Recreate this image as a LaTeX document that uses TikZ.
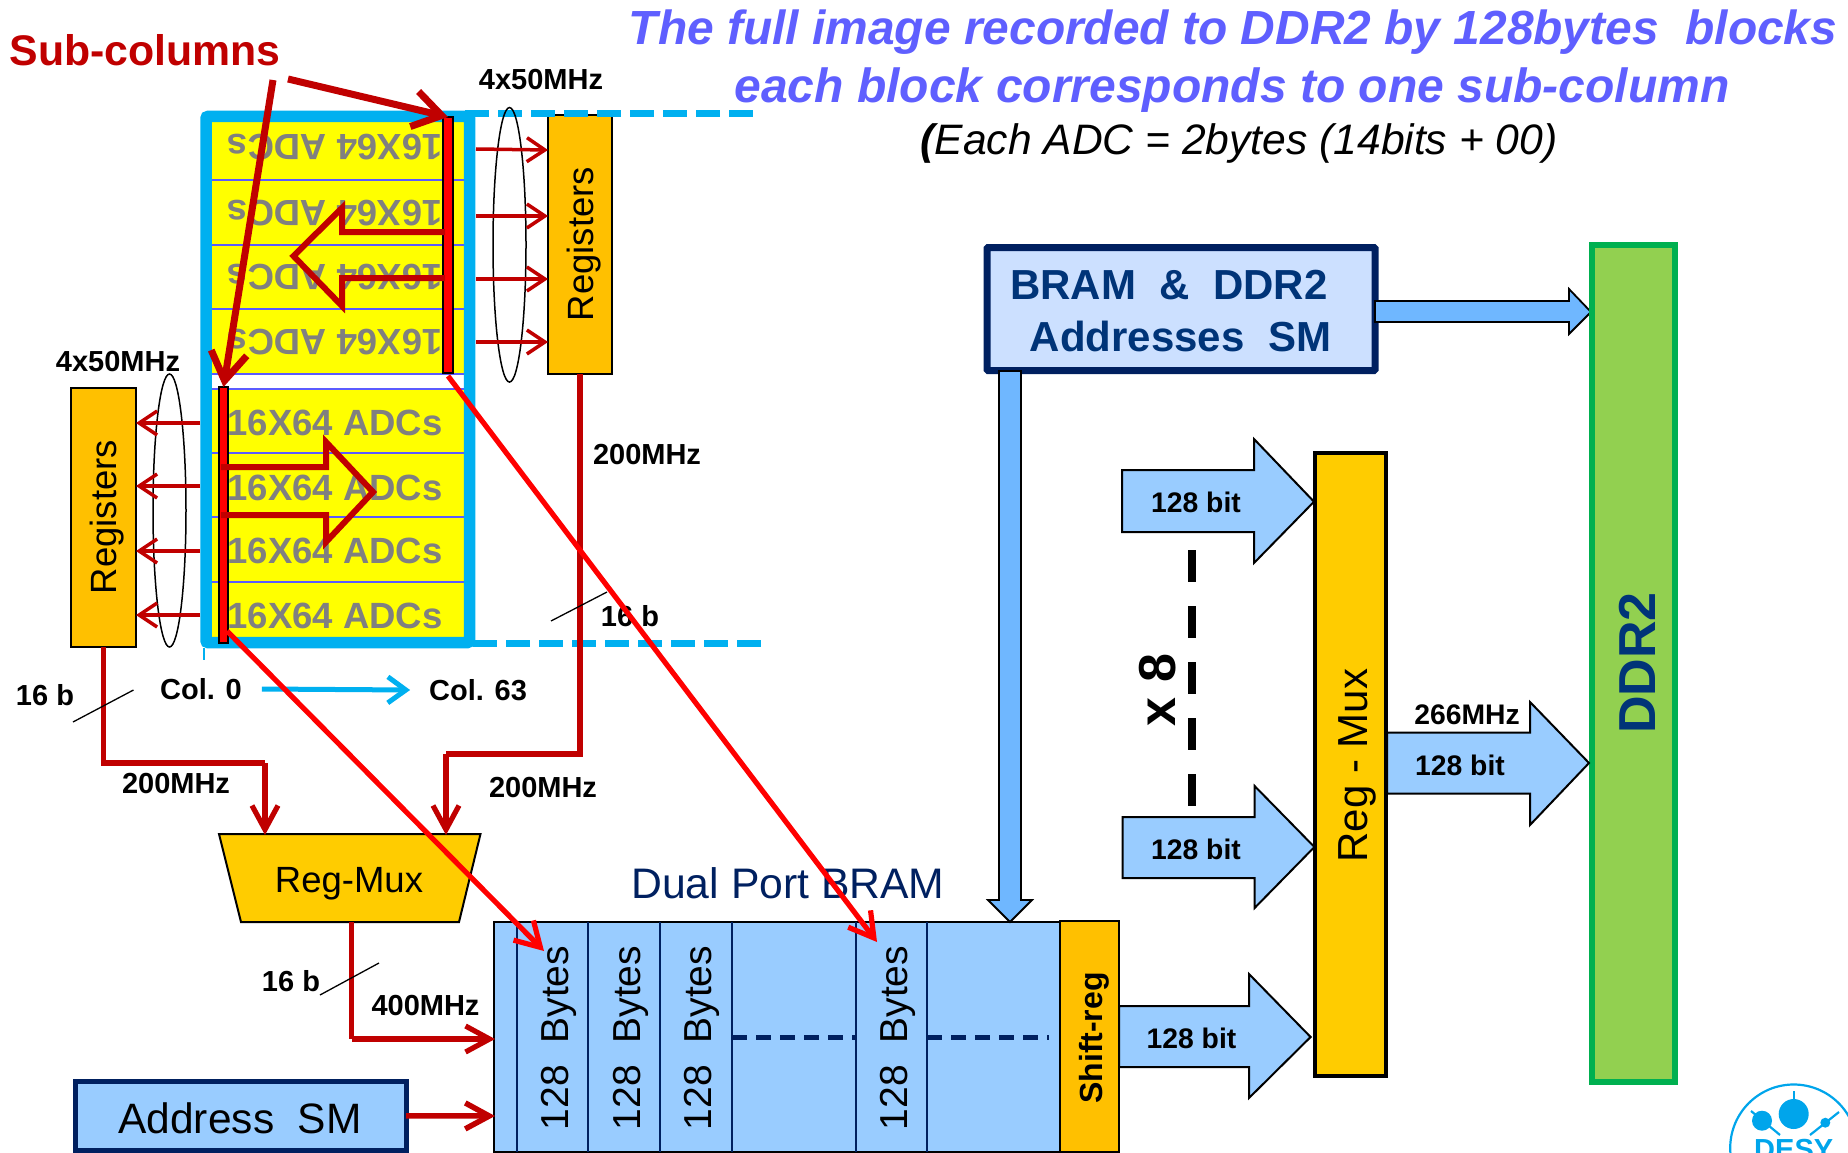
\documentclass[tikz,border=0pt]{standalone}
\usepackage{fontspec}
\setmainfont{Liberation Sans}
\usetikzlibrary{arrows.meta,shapes.geometric}
\newcommand{\fs}[1]{\fontsize{#1}{#1}\selectfont}
\definecolor{dred}{HTML}{C00000}
\definecolor{cyanb}{HTML}{00B0F0}
\definecolor{orng}{HTML}{FFC000}
\definecolor{yorng}{HTML}{FFCC00}
\definecolor{yell}{HTML}{FFFF00}
\definecolor{lblue}{HTML}{99CCFF}
\definecolor{mblue}{HTML}{6FB7FF}
\definecolor{pblue}{HTML}{CCE0FF}
\definecolor{navy}{HTML}{002060}
\definecolor{nvtxt}{HTML}{003478}
\definecolor{titleb}{HTML}{5F5FFF}
\definecolor{sepb}{HTML}{5B5BFF}
\definecolor{dgreen}{HTML}{00B050}
\definecolor{lgreen}{HTML}{92D050}
\definecolor{desyb}{HTML}{00A5EB}
\tikzset{
  x=1pt,y=-1pt,
  lbl/.style={inner sep=0pt,outer sep=0pt,font=\fs{29}\bfseries,text=black},
  block/.style={inner sep=0pt,outer sep=0pt,draw=black,line width=1.5pt},
  cell/.style={inner sep=0pt,outer sep=0pt,fill=yell,minimum width=252pt},
  adc/.style={inner sep=0pt,font=\fs{36.5}\bfseries,text=black!50},
  thinarrow/.style={draw=dred,line width=3.5pt,-{Straight Barb[length=18pt,width=24pt]}},
  redline/.style={draw=dred,line width=5.2pt},
  redarrow/.style={draw=dred,line width=5.2pt,-{Straight Barb[length=24pt,width=26pt]}},
  bigarrow/.style={draw=dred,line width=7pt,-{Straight Barb[length=28pt,width=36pt]}},
  brightarrow/.style={draw=red,line width=5.2pt,-{Straight Barb[length=24pt,width=28pt]}},
  hollow/.style={draw=dred,line width=6pt,miter limit=10},
  cdash/.style={draw=cyanb,line width=7pt,dash pattern=on 24pt off 9pt},
  blockarrow/.style={fill=lblue,draw=black,line width=2pt,miter limit=10},
  tick/.style={draw=black,line width=1.3pt},
  bram128/.style={inner sep=0pt,anchor=base,rotate=90,font=\fs{39}},
}
\begin{document}
\begin{tikzpicture}
\useasboundingbox (0,0) rectangle (1848,1153);
\clip (0,0) rectangle (1848,1153);

% ADC array
\node[cell,minimum height=252pt] (upper) at (338,248) {};
\node[cell,minimum height=248pt] (lower) at (338,513) {};
\foreach \yy in {180,245,309,374,389,453,517,582}
  \draw[sepb,line width=2.5pt] (212,\yy) -- (464,\yy);
\node[adc,rotate=180] (a1) at (335,147) {16X64 ADCs};
\node[adc,rotate=180] (a2) at (335,213) {16X64 ADCs};
\node[adc,rotate=180] (a3) at (335,277) {16X64 ADCs};
\node[adc,rotate=180] (a4) at (335,342) {16X64 ADCs};
\node[adc] (a5) at (335,423) {16X64 ADCs};
\node[adc] (a6) at (335,488) {16X64 ADCs};
\node[adc] (a7) at (335,551) {16X64 ADCs};
\node[adc] (a8) at (335,616) {16X64 ADCs};
\node[inner sep=0pt,outer sep=0pt,draw=cyanb,line width=11.5pt,minimum width=263.5pt,minimum height=526pt,rounded corners=2pt] (frame) at (337.75,379.5) {};
\draw[cyanb,line width=2pt] (204,648) -- (204,660);

% Registers
\node[block,fill=orng,minimum width=64pt,minimum height=259pt] (regR) at (580,244.5) {};
\node[block,fill=orng,minimum width=65pt,minimum height=259pt] (regL) at (103.5,517.5) {};
\node[inner sep=0pt,anchor=base,rotate=90,font=\fs{36.5}] (regRt) at (593.5,244) {Registers};
\node[inner sep=0pt,anchor=base,rotate=90,font=\fs{36.5}] (regLt) at (116.5,517) {Registers};
\draw[cdash] (465,114) -- (757,114);
\draw[cdash] (473,643) -- (761,643);

% Ellipses
\node[draw=black,line width=1.5pt,ellipse,inner sep=0pt,minimum width=33pt,minimum height=274.5pt] (ellR) at (509.5,244.8) {};
\node[draw=black,line width=1.5pt,ellipse,inner sep=0pt,minimum width=33pt,minimum height=273pt] (ellL) at (169.5,510.5) {};

% Small arrows frame <-> registers
\coordinate (r1) at (476,149); \coordinate (r1e) at (548,150);
\coordinate (r2) at (476,216); \coordinate (r2e) at (548,216);
\coordinate (r3) at (476,279); \coordinate (r3e) at (548,279);
\coordinate (r4) at (476,342); \coordinate (r4e) at (548,342);
\coordinate (l1) at (200,423); \coordinate (l1e) at (136,423);
\coordinate (l2) at (200,486); \coordinate (l2e) at (136,486);
\coordinate (l3) at (200,551); \coordinate (l3e) at (136,551);
\coordinate (l4) at (200,615); \coordinate (l4e) at (136,615);
\foreach \aa/\bb in {r1/r1e,r2/r2e,r3/r3e,r4/r4e,l1/l1e,l2/l2e,l3/l3e,l4/l4e}
  \draw[thinarrow] (\aa) -- (\bb);

% Red bars
\node[block,fill=red,minimum width=10pt,minimum height=256pt] (barR) at (448,245) {};
\node[block,fill=red,minimum width=9pt,minimum height=256pt] (barL) at (223.5,515) {};

% Hollow arrows
\draw[hollow] (445,232) -- (342,232) -- (342,208) -- (293.5,256) -- (342,306) -- (342,278) -- (445,278);
\draw[hollow] (221,467) -- (326,467) -- (326,442) -- (373,492) -- (326,542) -- (326,515) -- (221,515);

% Labels top-left
\node[inner sep=0pt,anchor=base,font=\fs{42.8}\bfseries,text=dred] (subc) at (145,65.5) {Sub-columns};
\coordinate (sa) at (288,79);
\coordinate (sb) at (273,80);
\draw[bigarrow] (sa) -- (barR.north);
\draw[bigarrow] (sb) -- (barL.north);
\node[lbl] (f1) at (541,80) {4x50MHz};
\node[lbl] (f2) at (118,362) {4x50MHz};
\node[lbl] (f3) at (647,455) {200MHz};
\node[lbl] (f4) at (176,784) {200MHz};
\node[lbl] (f5) at (543,788) {200MHz};
\node[lbl] (f6) at (425.5,1006) {400MHz};
\node[lbl] (b1) at (630,616) {16 b};
\node[lbl] (b2) at (45,695) {16 b};
\node[lbl] (b3) at (291,981) {16 b};
\node[lbl] (c0) at (201,689) {Col. 0};
\node[lbl] (c63) at (478,690) {Col. 63};
\draw[draw=cyanb,line width=5pt,-{Straight Barb[length=18pt,width=26pt]}] (c0.east) ++(20,0) -- ([xshift=-19pt]c63.west);

% Reg-Mux
\draw[fill=yorng,draw=black,line width=2pt] (219,834) -- (480.5,834) -- (459,922) -- (241,922) -- cycle;
\node[inner sep=0pt,font=\fs{36.5}] (rmux) at (349,884) {Reg-Mux};
\coordinate (mxa) at (265,835);
\coordinate (mxb) at (446,835);
\coordinate (mxo) at (351.5,922);
\coordinate (lh) at (103.5,763);
\coordinate (lh2) at (265,763);
\coordinate (rh) at (580,754);
\coordinate (rh2) at (446,754);
\draw[redline] (regR.south) -- (rh) -- (rh2);
\draw[redline] (regL.south) -- (lh) -- (lh2);
\draw[redarrow] (lh2) -- (mxa);
\draw[redarrow] (rh2) -- (mxb);

% Ticks
\coordinate (t1a) at (551,621); \coordinate (t1b) at (607,592);
\coordinate (t2a) at (73,722);  \coordinate (t2b) at (133.5,690);
\coordinate (t3a) at (320,995); \coordinate (t3b) at (379,963);

% BRAM
\node[inner sep=0pt,font=\fs{42.7},text=navy] (dual) at (788,883) {Dual Port BRAM};
\node[inner sep=0pt,outer sep=0pt,fill=lblue,draw=black,line width=2pt,minimum width=566pt,minimum height=230pt] (bram) at (777,1037) {};
\foreach \xx in {517,588,660,732,856,927}
  \draw[navy,line width=2pt] (\xx,922) -- (\xx,1152);
\node[bram128] (by1) at (568.6,1038) {128~~Bytes};
\node[bram128] (by2) at (640,1038) {128~~Bytes};
\node[bram128] (by3) at (711.7,1038) {128~~Bytes};
\node[bram128] (by4) at (907.6,1038) {128~~Bytes};
\draw[navy,line width=5pt,dash pattern=on 15pt off 9pt] (732,1037) -- (856,1037);
\draw[navy,line width=5pt,dash pattern=on 15pt off 9pt] (927,1037) -- (1049,1037);
\node[inner sep=0pt,outer sep=0pt,fill=orng,draw=black,line width=2pt,minimum width=59pt,minimum height=231pt] (shift) at (1089.5,1036.5) {};
\node[inner sep=0pt,anchor=base,rotate=90,font=\fs{32}\bfseries] (shiftt) at (1102,1038) {Shift-reg};

% output of mux to BRAM
\coordinate (mxc) at (351.5,1039);
\coordinate (brin) at (495,1039);
\draw[redline] (mxo) -- (mxc);
\draw[redarrow] (mxc) -- (brin);

% Address SM
\node[inner sep=0pt,outer sep=0pt,fill=lblue,draw=navy,line width=5pt,minimum width=331pt,minimum height=68.5pt] (addr) at (240.5,1115.75) {};
\node[inner sep=0pt,font=\fs{42.5}] (addrt) at (240,1118) {Address~~SM};
\coordinate (brin2) at (495,1116);
\draw[redarrow,line width=5.5pt] (addr.east) -- (brin2);

% BRAM & DDR2 SM
\node[inner sep=0pt,outer sep=0pt,fill=pblue,draw=navy,line width=7pt,minimum width=388pt,minimum height=123pt,rounded corners=1pt] (sm) at (1181,309) {};
\node[inner sep=0pt,font=\fs{42}\bfseries,text=nvtxt] (sm1) at (1169,285) {BRAM~~\&~~DDR2};
\node[inner sep=0pt,font=\fs{42}\bfseries,text=nvtxt] (sm2) at (1180.5,336) {Addresses~~SM};
\draw[fill=mblue,draw=black,line width=1.8pt,miter limit=10] (999,371) -- (1021,371) -- (1021,900) -- (1032,900) -- (1010,922) -- (988,900) -- (999,900) -- cycle;
\draw[fill=mblue,draw=black,line width=1.8pt,miter limit=10] (1375,301) -- (1569,301) -- (1569,289) -- (1591,312) -- (1569,334) -- (1569,322) -- (1375,322) -- cycle;

% DDR2
\node[inner sep=0pt,outer sep=0pt,fill=lgreen,draw=dgreen,line width=6pt,minimum width=83pt,minimum height=837pt] (ddr) at (1633.5,663.5) {};
\node[inner sep=0pt,anchor=base,rotate=90,font=\fs{52}\bfseries,text=nvtxt] (ddrt) at (1655,663) {DDR2};

% 128 bit block arrows
\draw[blockarrow] (1122,470) -- (1254,470) -- (1254,439) -- (1314,501.7) -- (1254,563) -- (1254,532) -- (1122,532) -- cycle;
\draw[blockarrow] (1122.5,817) -- (1254.6,817) -- (1254.6,786) -- (1314.4,847) -- (1254.6,908) -- (1254.6,878) -- (1122.5,878) -- cycle;
\draw[blockarrow] (1119,1006) -- (1249,1006) -- (1249,974) -- (1310.6,1037) -- (1249,1098) -- (1249,1067) -- (1119,1067) -- cycle;
\draw[blockarrow] (1387,732.7) -- (1530,732.7) -- (1530,702) -- (1589,763) -- (1530,825) -- (1530,793.7) -- (1387,793.7) -- cycle;

% Big Reg-Mux
\node[inner sep=0pt,outer sep=0pt,fill=yorng,draw=black,line width=3.5pt,minimum width=71pt,minimum height=623pt] (bigmux) at (1350.5,764.5) {};
\node[inner sep=0pt,anchor=base,rotate=90,font=\fs{42}] (bigmuxt) at (1367,765.5) {Reg - Mux};

\node[lbl,font=\fs{28.3}\bfseries] (w1) at (1196,502) {128 bit};
\node[lbl,font=\fs{28.3}\bfseries] (w2) at (1196,849) {128 bit};
\node[lbl,font=\fs{28.3}\bfseries] (w3) at (1191.5,1038) {128 bit};
\node[lbl,font=\fs{28.3}\bfseries] (w4) at (1460,765) {128 bit};
\node[lbl,font=\fs{28.3}\bfseries] (w5) at (1467,715) {266MHz};

% x 8
\coordinate (dsh1) at (1192,550);
\coordinate (dsh2) at (1192,806);
\draw[black,line width=8pt,dash pattern=on 32pt off 24pt] (dsh1) -- (dsh2);
\node[inner sep=0pt,anchor=base,rotate=90,font=\fs{52}\bfseries] (x8) at (1175,690) {x 8};

% Ticks on top
\draw[tick] (t1a) -- (t1b);
\draw[tick] (t2a) -- (t2b);
\draw[tick] (t3a) -- (t3b);

% Bright arrows
\coordinate (brl) at (227,631);
\coordinate (brle) at (544,951);
\coordinate (brr) at (448,376);
\coordinate (brre) at (877,942);
\draw[brightarrow] (brl) -- (brle);
\draw[brightarrow] (brr) -- (brre);

% Titles
\node[inner sep=0pt,anchor=base,font=\fs{47.9}\bfseries\itshape,text=titleb] (t1) at (1233,45) {The full image recorded to DDR2 by 128bytes~~blocks};
\node[inner sep=0pt,anchor=base,font=\fs{48}\bfseries\itshape,text=titleb] (t2) at (1232,102.7) {each block corresponds to one sub-column};
\node[inner sep=0pt,anchor=base,font=\fs{42.6}\itshape] (t3) at (1239,155) {{\bfseries(}Each ADC = 2bytes (14bits + 00)};

% DESY logo
\draw[desyb,line width=2.2pt] (1793.7,1148) circle[radius=63.5];
\draw[desyb,line width=2.2pt] (1793.7,1091) -- (1793.7,1129);
\draw[desyb,line width=2.2pt] (1751,1111) -- (1780,1135);
\draw[desyb,line width=2.2pt] (1839,1112) -- (1810,1135);
\fill[desyb] (1793.7,1114) circle[radius=15];
\fill[desyb] (1762,1120.7) circle[radius=10];
\fill[desyb] (1825.3,1122.7) circle[radius=5];
\node[inner sep=0pt,anchor=base,font=\fs{29}\bfseries,text=desyb] (desy) at (1793.7,1159) {DESY};
\end{tikzpicture}
\end{document}
